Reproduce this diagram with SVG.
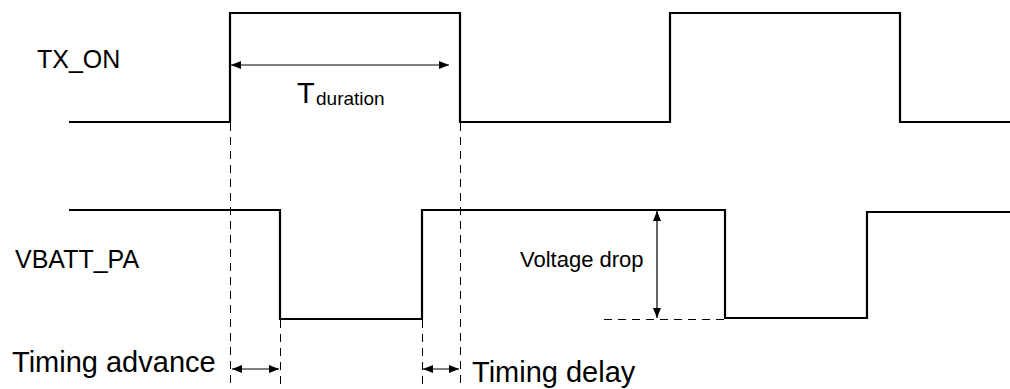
<svg xmlns="http://www.w3.org/2000/svg" width="1010" height="389" viewBox="0 0 1010 389">
<style>
.sig{fill:none;stroke:#000;stroke-width:2.2;stroke-linejoin:miter}
.dash{fill:none;stroke:#000;stroke-width:1;stroke-dasharray:8,6}
.arr{fill:none;stroke:#000;stroke-width:1.2;marker-start:url(#ah);marker-end:url(#ah)}
text{font-family:"Liberation Sans",Arial,sans-serif;fill:#000}
</style>
<defs>
<marker id="ah" viewBox="0 0 10 8" refX="10" refY="4" markerWidth="10" markerHeight="8" markerUnits="userSpaceOnUse" orient="auto-start-reverse">
<path d="M0,0 L10,4 L0,8 Z" fill="#000"/>
</marker>
</defs>
<g id="tx_on">
<path class="sig" d="M69,122 H230 V13 H460 V122 H670 V13 H900 V122 H1010"/>
<text x="37" y="68" font-size="25">TX_ON</text>
</g>
<g id="vbatt_pa">
<path class="sig" d="M69,210 H280 V319 H422 V210 H725 V318 H867 V212 H1010"/>
<text x="15" y="268" font-size="25">VBATT_PA</text>
</g>
<g id="connectors">
<line class="dash" x1="230.5" y1="123" x2="230.5" y2="389"/>
<line class="dash" x1="460.5" y1="123" x2="460.5" y2="389"/>
<line class="dash" x1="280.5" y1="320" x2="280.5" y2="389"/>
<line class="dash" x1="422.5" y1="320" x2="422.5" y2="389"/>
<line class="dash" x1="604" y1="319.5" x2="725" y2="319.5"/>
<line class="arr" x1="231" y1="65" x2="449" y2="65"/>
<line class="arr" x1="657" y1="211" x2="657" y2="318"/>
<line class="arr" x1="232" y1="369" x2="279" y2="369"/>
<line class="arr" x1="423" y1="369" x2="459" y2="369"/>
</g>
<g id="labels">
<text x="297" y="103" font-size="29">T</text>
<text x="316" y="105" font-size="19">duration</text>
<text x="520" y="267" font-size="22">Voltage drop</text>
<text x="12" y="372" font-size="29">Timing advance</text>
<text x="472" y="382" font-size="29">Timing delay</text>
</g>
</svg>
